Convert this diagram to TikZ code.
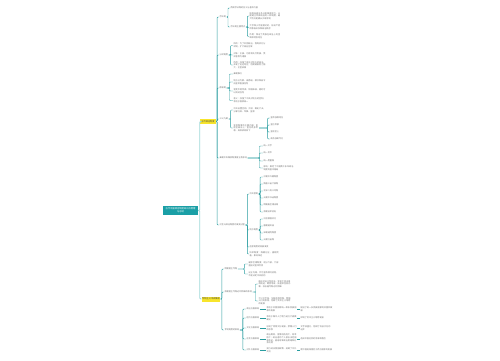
\documentclass[tikz,border=0pt]{standalone}
\usepackage{fontspec}
\setmainfont{Noto Sans CJK SC}
\XeTeXlinebreaklocale "zh"
\XeTeXlinebreakskip=0pt plus 1pt
\usepackage{tikz}

\definecolor{linkteal}{HTML}{2A9DA0}
\definecolor{trunkteal}{HTML}{9ED8D8}
\definecolor{rootteal}{HTML}{1A9FA6}
\definecolor{mapyellow}{HTML}{F8E52C}
\definecolor{textgray}{HTML}{707070}

\tikzset{
  txt/.style={anchor=west, inner sep=0.4pt, font=\fontsize{2.1}{2.7}\selectfont, text=textgray, align=left},
  rootbox/.style={fill=rootteal, text=white, minimum width=35pt, minimum height=9pt, inner sep=0.5pt, align=center, font=\fontsize{2.3}{3}\selectfont},
  topicbox/.style={fill=mapyellow, text=black!75, minimum height=5pt, inner sep=0.4pt, font=\fontsize{2.2}{2.6}\selectfont},
  link/.style={draw=linkteal, line width=0.45pt, rounded corners=0.8pt},
  trunk/.style={draw=trunkteal, line width=0.9pt, rounded corners=1pt}
}

\begin{document}
\begin{tikzpicture}[x=1pt,y=-1pt]
\useasboundingbox (0,0) rectangle (500,360);

\node (root) at (180.5,210.5) [rootbox]{古代中国政治制度知识点梳理\\与总结};
\node (b1) at (208,121.5) [topicbox, minimum width=16pt]{古代政治制度};
\node (b2) at (211,299) [topicbox, minimum width=18pt]{专制主义中央集权};

\draw [trunk] (root.east) -- ++(1.5,0) |- (b1.west);
\draw [trunk] (root.east) -- ++(1.5,0) |- (b2.west);

% first branch
\node (n1) at (219,17) [txt]{宗法制};
\node (n2) at (219,55) [txt]{分封制度};
\node (n3) at (219,88) [txt]{郡县制};
\node (n4) at (219,119) [txt]{三公九卿};
\node (n5) at (219,158) [txt]{秦朝中央集权制度建立及影响};
\node (n6) at (219,225) [txt]{汉至元政治制度的演变过程};

\draw [link] (b1.east) -- ++(1,0) |- (n1.west);
\draw [link] (b1.east) -- ++(1,0) |- (n2.west);
\draw [link] (b1.east) -- ++(1,0) |- (n3.west);
\draw [link] (b1.east) -- ++(1,0) |- (n4.west);
\draw [link] (b1.east) -- ++(1,0) |- (n5.west);
\draw [link] (b1.east) -- ++(1,0) |- (n6.west);

\node (n1a) at (230,8) [txt]{西周宗法制的含义与基本内容};
\node (n1b) at (230,27) [txt]{宗法制主要特点};
\draw [link] (n1.east) -- ++(1.5,0) |- (n1a.west);
\draw [link] (n1.east) -- ++(1.5,0) |- (n1b.west);

\node (n1b1) at (249,16) [txt, text width=31pt]{按照血缘关系分配国家权力，以便建立世袭统治的一种制度，最大特点是嫡长子继承制};
\node (n1b2) at (249,27.5) [txt, text width=31pt]{大宗和小宗是相对的，形成严密的等级关系和统治秩序};
\node (n1b3) at (249,36.5) [txt, text width=31pt]{作用：保证了贵族在政治上的垄断和特权地位};
\draw [link] (n1b.east) -- ++(1.5,0) |- (n1b1.west);
\draw [link] (n1b.east) -- ++(1.5,0) |- (n1b2.west);
\draw [link] (n1b.east) -- ++(1.5,0) |- (n1b3.west);

\node (n2a) at (233,45.5) [txt, text width=32pt]{目的：为了巩固统治，西周实行分封制，扩大统治区域};
\node (n2b) at (233,55) [txt, text width=32pt]{对象：王族、功臣和先代贵族，受封者称为诸侯};
\node (n2c) at (233,65) [txt, text width=32pt]{作用：加强了周王对地方的统治，开发了边远地区；后期诸侯势力强大，王室衰微};
\draw [link] (n2.east) -- ++(2,0) |- (n2a.west);
\draw [link] (n2.east) -- ++(2,0) |- (n2b.west);
\draw [link] (n2.east) -- ++(2,0) |- (n2c.west);

\node (n3a) at (233,74) [txt]{秦朝推行};
\node (n3b) at (233,82) [txt, text width=32pt]{地方分为郡、县两级，郡守和县令由皇帝直接任免};
\node (n3c) at (233,91) [txt, text width=32pt]{官吏不得世袭，领取俸禄，随时可以调动任免};
\node (n3d) at (233,100.5) [txt, text width=32pt]{意义：加强了中央对地方的控制，有利于国家统一};
\draw [link] (n3.east) -- ++(3,0) |- (n3a.west);
\draw [link] (n3.east) -- ++(3,0) |- (n3b.west);
\draw [link] (n3.east) -- ++(3,0) |- (n3c.west);
\draw [link] (n3.east) -- ++(3,0) |- (n3d.west);

\node (n4a) at (233,110) [txt, text width=32pt]{中央设置丞相、太尉、御史大夫，分掌行政、军事、监察};
\node (n4b) at (233,128) [txt, text width=25pt]{皇帝制度的主要内容：皇权至高无上，皇位终身世袭，具体表现如下};
\draw [link] (n4.east) -- ++(2,0) |- (n4a.west);
\draw [link] (n4.east) -- ++(2,0) |- (n4b.west);

\node (n4b1) at (270,118) [txt]{皇帝独尊地位};
\node (n4b2) at (270,125) [txt]{皇位世袭};
\node (n4b3) at (270,132) [txt]{皇权至上};
\node (n4b4) at (270,139) [txt]{政务独断专行};
\draw [link] (n4b.east) -- ++(8.5,0) |- (n4b1.west);
\draw [link] (n4b.east) -- ++(8.5,0) |- (n4b2.west);
\draw [link] (n4b.east) -- ++(8.5,0) |- (n4b3.west);
\draw [link] (n4b.east) -- ++(8.5,0) |- (n4b4.west);

\node (n5a) at (263,146) [txt]{统一文字};
\node (n5b) at (263,153) [txt]{统一货币};
\node (n5c) at (263,161) [txt]{统一度量衡};
\node (n5d) at (263,168) [txt, text width=30pt]{影响：奠定了中国两千多年政治制度的基本格局};
\draw [link] (n5.east) -- ++(12,0) |- (n5a.west);
\draw [link] (n5.east) -- ++(12,0) |- (n5b.west);
\draw [link] (n5.east) -- ++(12,0) |- (n5c.west);
\draw [link] (n5.east) -- ++(12,0) |- (n5d.west);

\node (n6a) at (249,194) [txt]{中央官制};
\node (n6b) at (249,230) [txt]{地方制度};
\node (n6c) at (249,247) [txt]{选官制度的发展演变};
\node (n6d) at (249,254) [txt, text width=30pt]{科举制度：隋朝创立，唐朝完善，影响深远};
\draw [link] (n6.east) -- ++(2,0) |- (n6a.west);
\draw [link] (n6.east) -- ++(2,0) |- (n6b.west);
\draw [link] (n6.east) -- ++(2,0) |- (n6c.west);
\draw [link] (n6.east) -- ++(2,0) |- (n6d.west);

\node (n6a1) at (263,177) [txt]{汉朝中外朝制度};
\node (n6a2) at (263,184) [txt]{隋唐三省六部制};
\node (n6a3) at (263,191) [txt]{北宋二府三司制};
\node (n6a4) at (263,198) [txt]{元朝中书省制度};
\node (n6a5) at (263,205) [txt]{明朝废丞相设阁};
\node (n6a6) at (263,212) [txt]{清朝设军机处};
\draw [link] (n6a.east) -- ++(1.5,0) |- (n6a1.west);
\draw [link] (n6a.east) -- ++(1.5,0) |- (n6a2.west);
\draw [link] (n6a.east) -- ++(1.5,0) |- (n6a3.west);
\draw [link] (n6a.east) -- ++(1.5,0) |- (n6a4.west);
\draw [link] (n6a.east) -- ++(1.5,0) |- (n6a5.west);
\draw [link] (n6a.east) -- ++(1.5,0) |- (n6a6.west);

\node (n6b1) at (263,219) [txt]{汉初郡国并行};
\node (n6b2) at (263,226) [txt]{唐朝道州县};
\node (n6b3) at (263,233) [txt]{宋朝通判制度};
\node (n6b4) at (263,240) [txt]{元朝行省制};
\draw [link] (n6b.east) -- ++(1.5,0) |- (n6b1.west);
\draw [link] (n6b.east) -- ++(1.5,0) |- (n6b2.west);
\draw [link] (n6b.east) -- ++(1.5,0) |- (n6b3.west);
\draw [link] (n6b.east) -- ++(1.5,0) |- (n6b4.west);

% second branch
\node (m1) at (224,269) [txt]{明朝君主专制};
\node (m2) at (224,292) [txt]{清朝君主专制达到顶峰的表现};
\node (m3) at (224,330) [txt]{专制制度的影响};
\draw [link] (b2.east) -- ++(1.5,0) |- (m1.west);
\draw [link] (b2.east) -- ++(1.5,0) |- (m2.west);
\draw [link] (b2.east) -- ++(1.5,0) |- (m3.west);

\node (m1a) at (248,264) [txt, text width=30pt]{废除丞相制度，权分六部，六部直接对皇帝负责};
\node (m1b) at (248,274) [txt, text width=30pt]{设立内阁，作为皇帝顾问机构，不是法定中央机构};
\draw [link] (m1.east) -- ++(6.5,0) |- (m1a.west);
\draw [link] (m1.east) -- ++(6.5,0) |- (m1b.west);

\node (m2a) at (258,284) [txt, text width=32pt]{雍正时设立军机处，军机大臣由皇帝挑选，跪受笔录，按皇帝旨意办事，标志着专制达到顶峰};
\node (m2b) at (258,301) [txt, text width=32pt]{大兴文字狱，加强思想控制，禁锢人们的思想，阻碍了资本主义萌芽的发展};
\draw [link] (m2.east) -- ++(3,0) |- (m2a.west);
\draw [link] (m2.east) -- ++(3,0) |- (m2b.west);

\node (m3a) at (246,309) [txt]{政治方面影响};
\node (m3b) at (246,318) [txt]{经济方面影响};
\node (m3c) at (246,328) [txt]{文化方面影响};
\node (m3d) at (246,339) [txt]{社会方面影响};
\node (m3e) at (246,350) [txt]{对外方面影响};
\draw [link] (m3.east) -- ++(3,0) |- (m3a.west);
\draw [link] (m3.east) -- ++(3,0) |- (m3b.west);
\draw [link] (m3.east) -- ++(3,0) |- (m3c.west);
\draw [link] (m3.east) -- ++(3,0) |- (m3d.west);
\draw [link] (m3.east) -- ++(3,0) |- (m3e.west);

\node (m3a1) at (266,309) [txt, text width=30pt]{有利于巩固国家统一和多民族国家的发展};
\node (m3b1) at (266,318) [txt, text width=30pt]{有利于集中人力物力进行大规模建设};
\node (m3c1) at (266,328) [txt, text width=30pt]{压制了思想文化发展，禁锢人们的思想};
\node (m3d1) at (266,339) [txt, text width=30pt]{政治腐败，官僚机构庞大，效率低下；统治者的个人意志决定国家命运，容易导致政治黑暗和社会动荡};
\node (m3e1) at (266,350) [txt, text width=30pt]{实行闭关锁国政策，妨碍了中外交流};
\draw [link] (m3a.east) -- (m3a1.west);
\draw [link] (m3b.east) -- (m3b1.west);
\draw [link] (m3c.east) -- (m3c1.west);
\draw [link] (m3d.east) -- (m3d1.west);
\draw [link] (m3e.east) -- (m3e1.west);

\node (m3a2) at (300,309) [txt, text width=32pt]{促进了统一多民族国家的巩固和发展};
\node (m3b2) at (300,318) [txt]{抑制了资本主义萌芽发展};
\node (m3c2) at (300,328) [txt, text width=30pt]{文字狱盛行，阻碍了科技文化的进步};
\node (m3d2) at (300,339) [txt, text width=30pt]{造成中国社会的停滞和落后};
\node (m3e2) at (300,350) [txt, text width=32pt]{使中国逐渐落后于西方国家的发展};
\draw [link] (m3a1.east) -- (m3a2.west);
\draw [link] (m3b1.east) -- (m3b2.west);
\draw [link] (m3c1.east) -- (m3c2.west);
\draw [link] (m3d1.east) -- (m3d2.west);
\draw [link] (m3e1.east) -- (m3e2.west);

\end{tikzpicture}
\end{document}
